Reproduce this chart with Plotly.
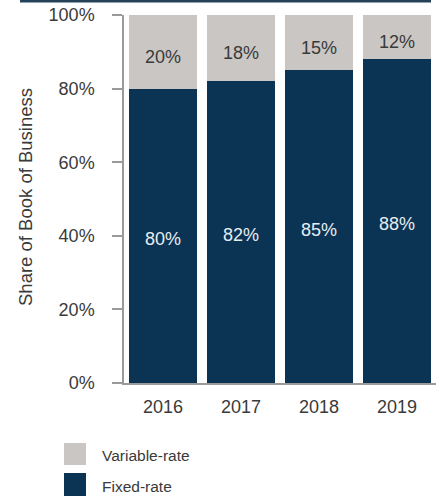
import plotly.graph_objects as go

# Share of book of business by rate type
years = ["2016", "2017", "2018", "2019"]
fixed_rate = [80, 82, 85, 88]
variable_rate = [20, 18, 15, 12]
y_ticks = [0, 20, 40, 60, 80, 100]
y_tick_labels = ["0%", "20%", "40%", "60%", "80%", "100%"]

NAVY = "#0b3354"
GREY = "#c9c6c3"
TEXT = "#3a3a3a"
FONT = "Liberation Sans, Arial, sans-serif"

W, H = 439, 498
L, R, T, B = 124, 3, 15, 115
PW, PH = W - L - R, H - T - B


def px_x(p):
    return (p - L) / PW


def px_y(p):
    return (H - B - p) / PH


fig = go.Figure()
fig.add_trace(go.Bar(
    x=years, y=fixed_rate, name="Fixed-rate",
    marker=dict(color=NAVY, line=dict(width=0)),
    showlegend=False, hoverinfo="skip",
))
fig.add_trace(go.Bar(
    x=years, y=variable_rate, name="Variable-rate",
    marker=dict(color=GREY, line=dict(width=0)),
    showlegend=False, hoverinfo="skip",
))

annotations = []
# value labels placed in the middle of each stacked segment
for i, (f, v) in enumerate(zip(fixed_rate, variable_rate)):
    annotations.append(dict(
        x=i, y=f / 2, text=f"{f}%", showarrow=False, yshift=-3,
        font=dict(family=FONT, size=18, color="#e6edf2")))
    annotations.append(dict(
        x=i, y=f + v / 2, text=f"{v}%", showarrow=False, yshift=-5,
        font=dict(family=FONT, size=18, color=TEXT)))

shapes = [
    # dark band along the top edge
    dict(type="rect", xref="paper", yref="paper",
         x0=px_x(20), x1=px_x(431), y0=px_y(2.5), y1=px_y(0),
         fillcolor="#24435a", line=dict(width=0), layer="above"),
    # legend swatches
    dict(type="rect", xref="paper", yref="paper",
         x0=px_x(64), x1=px_x(86), y0=px_y(465), y1=px_y(443),
         fillcolor=GREY, line=dict(width=0)),
    dict(type="rect", xref="paper", yref="paper",
         x0=px_x(64), x1=px_x(86), y0=px_y(496), y1=px_y(473),
         fillcolor=NAVY, line=dict(width=0)),
]

annotations += [
    dict(text="Share of Book of Business", textangle=-90,
         xref="paper", yref="paper", x=px_x(25), y=px_y(197),
         xanchor="center", yanchor="middle", showarrow=False,
         font=dict(family=FONT, size=18.5, color=TEXT)),
    dict(text="Variable-rate", xref="paper", yref="paper",
         x=px_x(100), y=px_y(455), xanchor="left", yanchor="middle",
         showarrow=False, font=dict(family=FONT, size=15.5, color=TEXT)),
    dict(text="Fixed-rate", xref="paper", yref="paper",
         x=px_x(100), y=px_y(486), xanchor="left", yanchor="middle",
         showarrow=False, font=dict(family=FONT, size=15.5, color=TEXT)),
]

fig.update_layout(
    width=W, height=H,
    margin=dict(l=L, r=R, t=T, b=B, pad=0),
    barmode="stack", bargap=0.14,
    plot_bgcolor="white", paper_bgcolor="white",
    font=dict(family=FONT, color=TEXT),
    shapes=shapes, annotations=annotations,
)
fig.update_xaxes(
    type="category", range=[-0.5, len(years) - 0.5],
    showgrid=False, zeroline=False,
    showline=True, linecolor="#9a9a9a", linewidth=1.5,
    ticks="", tickfont=dict(family=FONT, size=18, color=TEXT),
    ticklabelstandoff=7,
)
fig.update_yaxes(
    range=[0, 100], tickvals=y_ticks, ticktext=y_tick_labels,
    showgrid=False, zeroline=False,
    showline=True, linecolor="#9a9a9a", linewidth=1.5,
    ticks="outside", ticklen=10, tickcolor="#9a9a9a", tickwidth=1.5,
    tickfont=dict(family=FONT, size=18, color=TEXT),
    ticklabelstandoff=14,
)

fig.write_html("out.html")
